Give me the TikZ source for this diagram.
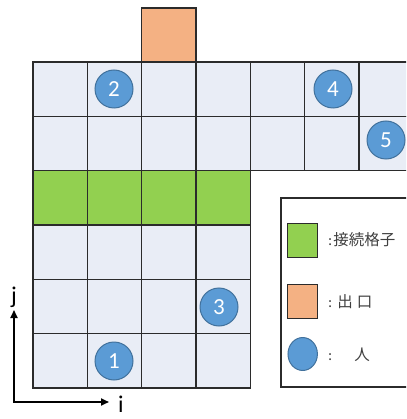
\documentclass[tikz,border=0pt]{standalone}
\usepackage{fontspec}
\setmainfont{Carlito}
\newfontfamily\cjk{Noto Sans CJK JP}
\usetikzlibrary{arrows.meta}
\definecolor{cellc}{HTML}{E9EDF6}
\definecolor{gridc}{HTML}{2B2B2B}
\definecolor{greenc}{HTML}{92D050}
\definecolor{orangec}{HTML}{F4B183}
\definecolor{bluec}{HTML}{5B9BD5}
\definecolor{blueb}{HTML}{41719C}
\definecolor{textc}{HTML}{404040}
\begin{document}
\begin{tikzpicture}[x=1pt,y=-1pt,
  cell/.style={draw=gridc, line width=1.4pt, fill=cellc},
  conn/.style={draw=gridc, line width=1.4pt, fill=greenc},
  exitc/.style={draw=gridc, line width=1.4pt, fill=orangec},
  person/.style={circle, draw=blueb, line width=1pt, fill=bluec, minimum size=38pt, inner sep=0pt, text=white, font=\fontsize{23}{24}\selectfont},
  keybox/.style={draw=gridc, line width=1.2pt, minimum width=30pt, minimum height=34pt, inner sep=0pt},
  legtext/.style={anchor=west, text=textc, inner sep=0pt, font=\fontsize{15.5}{17}\selectfont},
  axis/.style={line width=1.8pt, -{Triangle[length=8pt,width=7pt]}},
  axlabel/.style={inner sep=0pt, font=\fontsize{24}{26}\selectfont}]
\useasboundingbox (0,0) rectangle (406,419);
\clip (0,0) rectangle (406,419);
\def\s{54.3}
% top two rows
\foreach \r in {0,1}
  \foreach \c in {0,...,6}
    \draw[cell] ({33+\c*\s},{62+\r*\s}) rectangle ++(\s,\s);
% connecting row
\foreach \c in {0,...,3}
  \draw[conn] ({33+\c*\s},{62+2*\s}) rectangle ++(\s,\s);
% lower rows
\foreach \r in {3,4,5}
  \foreach \c in {0,...,3}
    \draw[cell] ({33+\c*\s},{62+\r*\s}) rectangle ++(\s,\s);
% exit
\draw[exitc] ({33+2*\s},8) rectangle ({33+3*\s},62);
% persons
\node[person] (p1) at (114,361) {1};
\node[person] (p2) at (114,89) {2};
\node[person] (p3) at (219,307) {3};
\node[person] (p4) at (333,89) {4};
\node[person] (p5) at (386,140) {5};
% legend
\draw[draw=gridc, line width=1.2pt, fill=white] (281,198) rectangle (430,387);
\node[keybox, fill=greenc] (kg) at (302.7,240.3) {};
\node[legtext] (tg) at (328,240) {:\hspace{1pt}\cjk 接続格子};
\node[keybox, fill=orangec] (ko) at (302.7,301.5) {};
\node[legtext] (to) at (328,302) {:\hspace{5pt}\cjk 出\hspace{4pt}口};
\node[circle, draw=blueb, line width=1pt, fill=bluec, minimum size=32pt, inner sep=0pt, xscale=0.92, yscale=1.03] (kp) at (302.7,354) {};
\node[legtext] (tp) at (328,355) {:\hspace{22pt}\cjk 人};
% axes
\coordinate (O) at (14,402);
\coordinate (jtip) at (14,310);
\coordinate (itip) at (109,402);
\node[axlabel] (jl) at (14,297) {j};
\node[axlabel] (il) at (121,404) {i};
\draw[axis] (O) -- (jtip);
\draw[axis] ([xshift=-0.9pt]O) -- (itip);
\end{tikzpicture}
\end{document}
